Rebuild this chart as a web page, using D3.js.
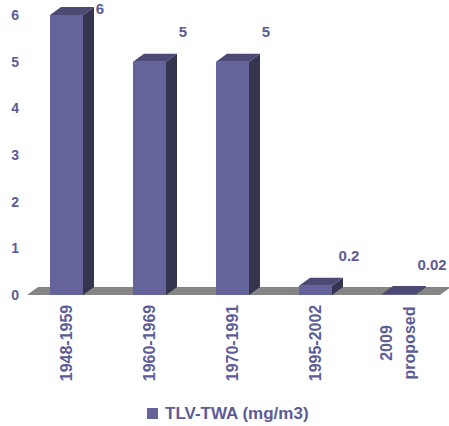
<!DOCTYPE html>
<html>
<head>
<meta charset="utf-8">
<script src="https://cdn.jsdelivr.net/npm/d3@7/dist/d3.min.js"></script>
<style>
  html, body { margin: 0; padding: 0; background: #ffffff; }
  svg { display: block; font-family: "Liberation Sans", Arial, sans-serif; font-weight: bold; }
</style>
</head>
<body>
<svg id="chart" width="449" height="426"></svg>
<script>
// TLV-TWA limits by period
const periods = ["1948-1959", "1960-1969", "1970-1991", "1995-2002", "2009\nproposed"];
const tlvValues = [6, 5, 5, 0.2, 0.02];
const valueLabels = ["6", "5", "5", "0.2", "0.02"];
const yTicks = [0, 1, 2, 3, 4, 5, 6];
const seriesName = "TLV-TWA (mg/m3)";

const textColor = "#5c5c96";
const frontColor = "#64649b";
const sideColor = "#35354f";
const topColor = "#4a4a74";
const floorColor = "#858585";

// 3D depth offset of each box
const depthX = 11, depthY = 8;

const svg = d3.select("#chart");

const x = d3.scaleBand()
  .domain(periods)
  .range([25, 440])
  .paddingInner(50 / 83)
  .paddingOuter(25 / 83);

const y = d3.scaleLinear().domain([0, 6]).range([295, 15]);

// floor
const fx0 = 27, fx1 = 440, fy = y(0);
svg.append("path")
  .attr("d", `M${fx0},${fy} L${fx1},${fy} L${fx1 + depthX},${fy - depthY} L${fx0 + depthX},${fy - depthY} Z`)
  .attr("fill", floorColor);

// y axis labels (no line)
const yAxis = d3.axisLeft(y).tickValues(yTicks).tickFormat(d3.format("d")).tickSize(0).tickPadding(0);
const yg = svg.append("g").attr("transform", "translate(19,0)").call(yAxis);
yg.select(".domain").remove();
yg.selectAll("text")
  .attr("fill", textColor)
  .attr("font-size", 14)
  .attr("font-weight", "bold")
  .attr("font-family", "Liberation Sans, Arial, sans-serif");

// bars
const bars = svg.append("g");
periods.forEach((p, i) => {
  const v = tlvValues[i];
  const x0 = x(p), w = x.bandwidth();
  const yt = y(v), yb = y(0);
  const g = bars.append("g");
  // side face
  g.append("path")
    .attr("d", `M${x0 + w},${yb} L${x0 + w + depthX},${yb - depthY} L${x0 + w + depthX},${yt - depthY} L${x0 + w},${yt} Z`)
    .attr("fill", sideColor);
  // front face
  g.append("rect")
    .attr("x", x0).attr("y", yt)
    .attr("width", w).attr("height", yb - yt)
    .attr("fill", frontColor);
  // top face
  g.append("path")
    .attr("d", `M${x0},${yt} L${x0 + w},${yt} L${x0 + w + depthX},${yt - depthY} L${x0 + depthX},${yt - depthY} Z`)
    .attr("fill", topColor);
});

// value labels
svg.append("g").selectAll("text")
  .data(periods)
  .join("text")
  .attr("x", (p) => x(p) - x.step() * x.paddingInner() / 2 + 75)
  .attr("y", (p, i) => Math.max(y(tlvValues[i]) - 24.5, 14))
  .attr("text-anchor", "middle")
  .attr("font-size", 15)
  .attr("fill", textColor)
  .text((p, i) => valueLabels[i]);

// category labels, rotated
const xg = svg.append("g");
periods.forEach((p) => {
  const lines = p.split("\n");
  const cx = x(p) + x.bandwidth() / 2;
  const lineGap = 23;
  lines.forEach((ln, j) => {
    const lx = cx + (j - (lines.length - 1) / 2) * lineGap + 5;
    xg.append("text")
      .attr("transform", `translate(${lx},343) rotate(-90)`)
      .attr("text-anchor", "middle")
      .attr("font-size", 16)
      .attr("fill", textColor)
      .text(ln);
  });
});

// legend
const lg = svg.append("g");
lg.append("rect").attr("x", 147).attr("y", 408).attr("width", 11).attr("height", 11).attr("fill", frontColor);
lg.append("text")
  .attr("x", 165).attr("y", 419)
  .attr("font-size", 17)
  .attr("fill", textColor)
  .text(seriesName);
</script>
</body>
</html>
